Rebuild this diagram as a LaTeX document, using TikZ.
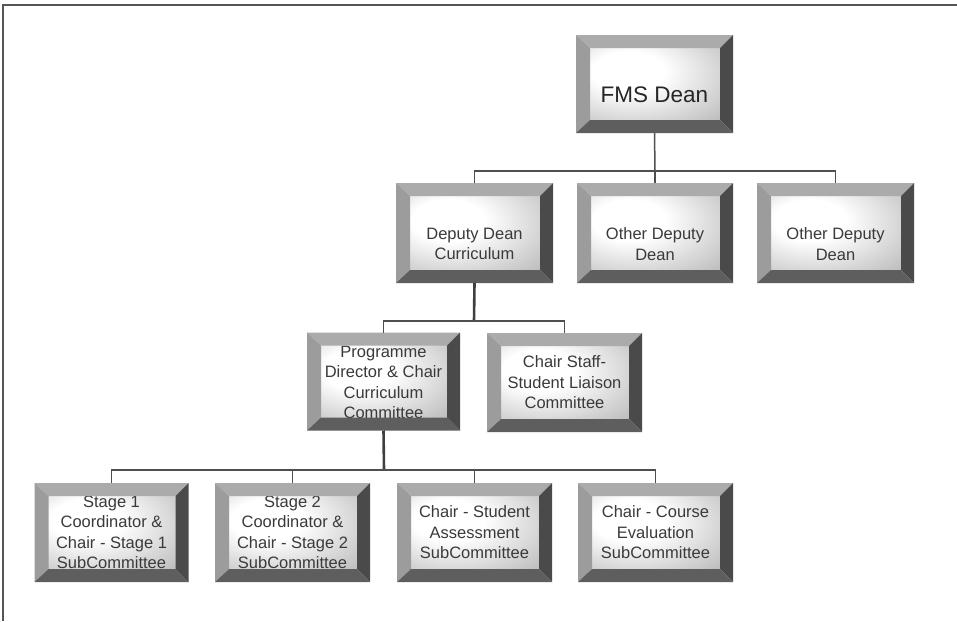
\documentclass[tikz,border=0pt]{standalone}
\usepackage{fontspec}
\setmainfont{Liberation Sans}
\definecolor{bevT}{HTML}{ABABAB}
\definecolor{bevL}{HTML}{9C9C9C}
\definecolor{bevR}{HTML}{4A4A4A}
\definecolor{bevB}{HTML}{5E5E5E}
\definecolor{txt}{HTML}{3A3A3A}
\definecolor{conn}{HTML}{4F4F4F}
\definecolor{frameln}{HTML}{555555}
\pgfdeclareradialshading{facesh}{\pgfpoint{-12bp}{10bp}}{color(0bp)=(white); color(14bp)=(white); color(62bp)=(black!42); color(95bp)=(black!42)}
\tikzset{
  x=1pt, y=-1pt,
  boxnode/.style={inner sep=0pt, outer sep=0pt},
  lbl/.style={font=\fontsize{16.5}{20.5}\selectfont, text=txt, align=center, inner sep=0pt},
  biglbl/.style={font=\fontsize{22.5}{26}\selectfont, text=black!85, align=center, inner sep=0pt},
  connline/.style={draw=conn, line width=1.5pt},
  connthick/.style={draw=conn!80!black, line width=2.6pt},
}
% #1 name, #2 cx, #3 cy, #4 w, #5 h, #6 text dy, #7 label style, #8 text
\newcommand\bevbox[8]{%
  \pgfmathsetmacro\bxa{#2-#4/2}\pgfmathsetmacro\bxb{#2+#4/2}%
  \pgfmathsetmacro\bya{#3-#5/2}\pgfmathsetmacro\byb{#3+#5/2}%
  \pgfmathsetmacro\bxc{\bxa+14}\pgfmathsetmacro\bxd{\bxb-13}%
  \pgfmathsetmacro\byc{\bya+13}\pgfmathsetmacro\byd{\byb-13}%
  \shade[shading=facesh] (\bxc,\byc) rectangle (\bxd,\byd);
  \node[boxnode, minimum width=#4pt, minimum height=#5pt] (#1) at (#2,#3) {};
  \node[#7] (#1-t) at (#2,{#3+#6}) {#8};
  \fill[bevT] (\bxa,\bya) -- (\bxb,\bya) -- (\bxd,\byc) -- (\bxc,\byc) -- cycle;
  \fill[bevL] (\bxa,\bya) -- (\bxc,\byc) -- (\bxc,\byd) -- (\bxa,\byb) -- cycle;
  \fill[bevR] (\bxb,\bya) -- (\bxb,\byb) -- (\bxd,\byd) -- (\bxd,\byc) -- cycle;
  \fill[bevB] (\bxa,\byb) -- (\bxb,\byb) -- (\bxd,\byd) -- (\bxc,\byd) -- cycle;
}
\begin{document}
\begin{tikzpicture}
\useasboundingbox (0,0) rectangle (957,621);
\fill[white] (0,0) rectangle (957,621);
% frame lines
\coordinate (fr1) at (2.5,621);
\coordinate (fr2) at (2.5,5);
\coordinate (fr3) at (957,5);
\draw[frameln, line width=2pt] (fr1) -- (fr2) -- (fr3);

\coordinate (j1) at (655,171);
\coordinate (j2) at (474,321);
\coordinate (j3) at (384,470);

% boxes
\bevbox{dean}{654.5}{84}{157}{98}{11}{biglbl}{FMS Dean}
\bevbox{dd1}{474.5}{233}{157}{100}{11}{lbl}{Deputy Dean\\Curriculum}
\bevbox{dd2}{655}{233}{156}{100}{11}{lbl}{Other Deputy\\Dean}
\bevbox{dd3}{835.5}{233}{157}{100}{11}{lbl}{Other Deputy\\Dean}
\bevbox{pd}{383.5}{381.5}{153}{98}{1}{lbl}{Programme\\Director \& Chair\\Curriculum\\Committee}
\bevbox{cs}{564.5}{382.5}{155}{99}{0}{lbl}{Chair Staff-\\Student Liaison\\Committee}
\bevbox{s1}{111.5}{532.5}{154}{99}{0}{lbl}{Stage 1\\Coordinator \&\\Chair - Stage 1\\SubCommittee}
\bevbox{s2}{292.5}{532.5}{155}{99}{0}{lbl}{Stage 2\\Coordinator \&\\Chair - Stage 2\\SubCommittee}
\bevbox{sa}{474.5}{532.5}{155}{99}{0}{lbl}{Chair - Student\\Assessment\\SubCommittee}
\bevbox{ce}{655.5}{532.5}{155}{99}{0}{lbl}{Chair - Course\\Evaluation\\SubCommittee}

% level 1
\draw[connline] (dean.south) -- (j1);
\draw[connline] (dd1.north) |- (j1) -| (dd3.north);
\draw[connline] (j1) -- (dd2.north);
% level 2
\draw[connthick] (dd1.south) -- (j2);
\draw[connline] (pd.north) |- (j2) -| (cs.north);
% level 3
\draw[connthick] (pd.south) -- (j3);
\draw[connline] (s1.north) |- (j3) -| (ce.north);
\draw[connline] (s2.north) -- (s2.north |- j3);
\draw[connline] (sa.north) -- (sa.north |- j3);
\end{tikzpicture}
\end{document}
